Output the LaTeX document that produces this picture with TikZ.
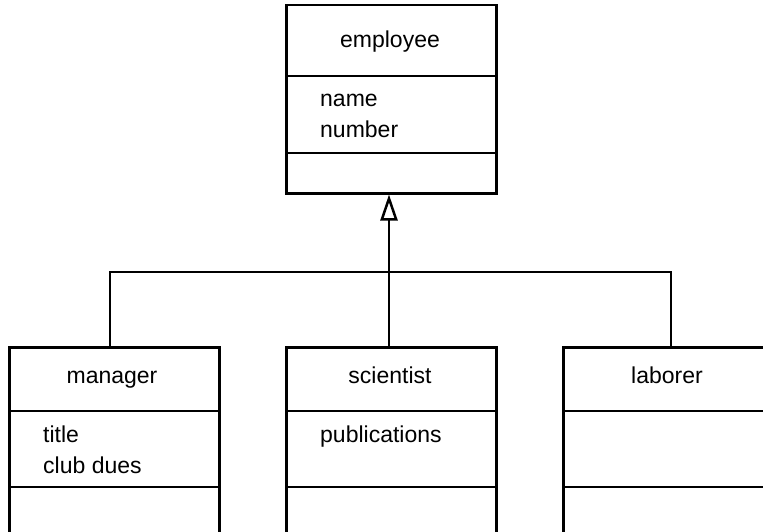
\documentclass[tikz,border=0pt]{standalone}
\usepackage{fontspec}
\setmainfont{Liberation Sans}
\usetikzlibrary{arrows.meta}
\begin{document}
\begin{tikzpicture}[x=1pt,y=-1pt,
  cls/.style={draw,line width=2.5pt,minimum width=210pt,minimum height=188pt,anchor=north west,inner sep=0pt},
  txt/.style={font=\fontsize{23}{28}\selectfont,inner sep=0pt},
  ttl/.style={txt,anchor=base},
  attr/.style={txt,anchor=base west},
  ln/.style={line width=2.5pt}]
\clip (0,0) rectangle (763,532);
\fill[white] (0,0) rectangle (763,532);
% classes
\node[cls] (emp) at (285,4) {};
\node[cls] (mgr) at (8,346) {};
\node[cls] (sci) at (285,346) {};
\node[cls] (lab) at (562,346) {};
% dividers
\draw[ln] (285,76) -- (495,76) (285,153) -- (495,153);
\foreach \x in {8,285,562} {
  \draw[ln] (\x,411) -- (\x+210,411) (\x,487) -- (\x+210,487);
}
% texts
\node[ttl] (empt) at (390,48) {employee};
\node[attr] (a1) at (320,107) {name};
\node[attr] (a2) at (320,138) {number};
\node[ttl] (mgrt) at (112,383) {manager};
\node[attr] (a3) at (43,442) {title};
\node[attr] (a4) at (43,473) {club dues};
\node[ttl] (scit) at (390,383) {scientist};
\node[attr] (a5) at (320,442) {publications};
\node[ttl] (labt) at (667,383) {laborer};
% connectors
\coordinate (j) at (389,272);
\coordinate (mx) at (110,346);
\coordinate (lx) at (671,346);
\draw[ln] (mx) |- (j) -| (lx);
\draw[ln,-{Triangle[open,length=26pt,width=17pt,line width=2.5pt]}] (sci.north -| j) -- (emp.south -| j);
\end{tikzpicture}
\end{document}
